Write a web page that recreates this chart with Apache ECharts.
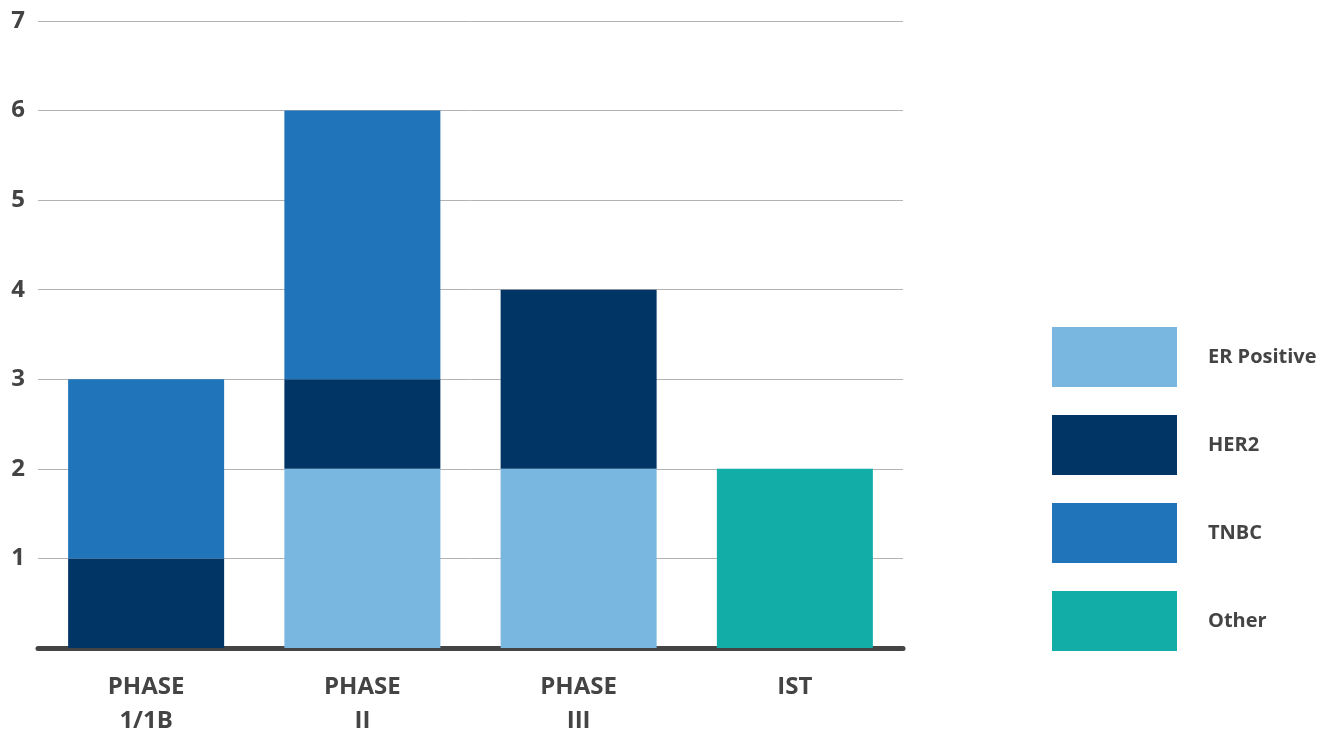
<!DOCTYPE html>
<html>
<head>
<meta charset="utf-8">
<script src="https://cdn.jsdelivr.net/npm/echarts@6/dist/echarts.min.js"></script>
<style>
  html, body { margin: 0; padding: 0; background: #fff; }
  #chart { width: 1325px; height: 729px; }
</style>
</head>
<body>
<div id="chart"></div>
<script>
// categories and series values
const phases = ['PHASE\n1/1B', 'PHASE\nII', 'PHASE\nIII', 'IST'];
const erPositive = [0, 2, 2, 0];
const her2 = [1, 1, 2, 0];
const tnbc = [2, 3, 0, 0];
const other = [0, 0, 0, 2];

const chart = echarts.init(document.getElementById('chart'));
const font = '"Open Sans", sans-serif';
const textColor = '#444444';

const mkSeries = (name, data, color) => ({
  name: name,
  type: 'bar',
  stack: 'total',
  barWidth: 156,
  data: data,
  itemStyle: { color: color },
  emphasis: { disabled: true }
});

chart.setOption({
  animation: false,
  grid: { left: 38, right: 422, top: 21, bottom: 81, outerBoundsMode: 'none' },
  legend: {
    orient: 'vertical',
    left: 1047,
    top: 322,
    itemWidth: 125,
    itemHeight: 60,
    itemGap: 28,
    icon: 'rect',
    selectedMode: false,
    textStyle: {
      fontFamily: font,
      fontWeight: 'bold',
      fontSize: 20,
      color: textColor,
      padding: [5, 0, 0, 26]
    },
    data: ['ER Positive', 'HER2', 'TNBC', 'Other']
  },
  xAxis: {
    type: 'category',
    data: phases,
    axisLine: { lineStyle: { color: '#444444', width: 5 } },
    axisTick: { show: false },
    axisLabel: {
      margin: 22,
      fontFamily: font,
      fontWeight: 'bold',
      fontSize: 24,
      lineHeight: 34,
      color: textColor
    }
  },
  yAxis: {
    type: 'value',
    min: 0,
    max: 7,
    interval: 1,
    axisLine: { show: false },
    axisTick: { show: false },
    splitLine: { lineStyle: { color: '#b3b3b3', width: 1 } },
    axisLabel: {
      margin: 13,
      fontFamily: font,
      fontWeight: 'bold',
      fontSize: 24,
      color: textColor,
      formatter: v => (v === 0 ? '' : String(v))
    }
  },
  series: [
    mkSeries('ER Positive', erPositive, '#79b6e0'),
    mkSeries('HER2', her2, '#003566'),
    mkSeries('TNBC', tnbc, '#2074ba'),
    mkSeries('Other', other, '#13ada8')
  ]
});
</script>
</body>
</html>
